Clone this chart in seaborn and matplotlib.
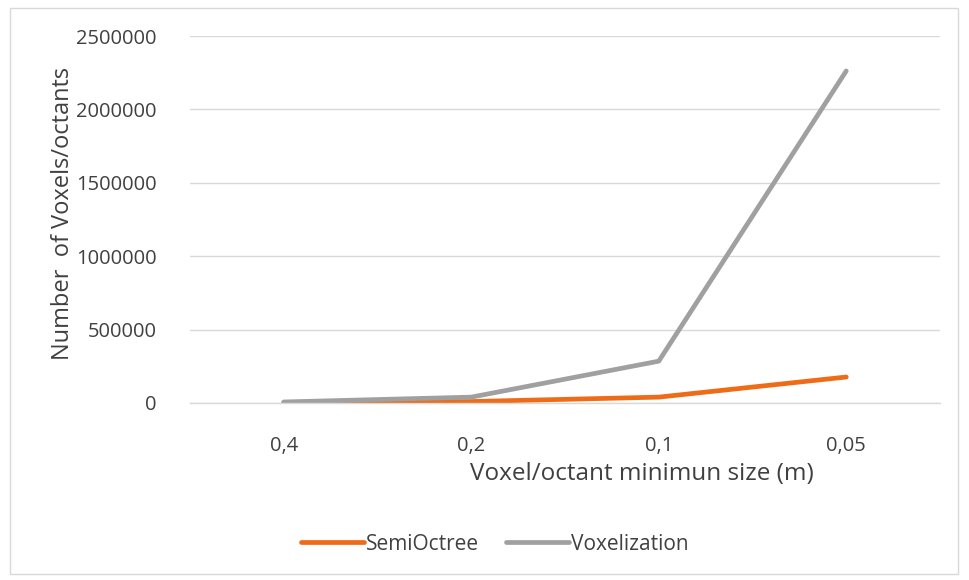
import matplotlib
matplotlib.use("Agg")
import matplotlib.pyplot as plt
import seaborn as sns
import pandas as pd
from matplotlib.patches import Rectangle

sizes = ["0,4", "0,2", "0,1", "0,05"]
semioctree = [2000, 10000, 40000, 177000]
voxelization = [7000, 40000, 285000, 2262000]
series_names = ["SemiOctree", "Voxelization"]
colors = ["#EE6C17", "#A0A0A0"]

df = pd.DataFrame({
    "size": sizes * 2,
    "count": semioctree + voxelization,
    "series": [series_names[0]] * len(sizes) + [series_names[1]] * len(sizes),
})

sns.set_theme(style="white")
plt.rcParams["font.family"] = ["Open Sans", "DejaVu Sans"]

fig = plt.figure(figsize=(9.7, 5.8), dpi=100)
ax = fig.add_axes([190/970, 1-403/580, 750/970, 367/580])

sns.lineplot(data=df, x="size", y="count", hue="series", palette=colors,
             linewidth=3.4, sort=False, ax=ax, legend=True,
             solid_capstyle="round")

ax.set_xlim(-0.5, 3.5)
ax.set_ylim(0, 2500000)
ax.set_yticks([0, 500000, 1000000, 1500000, 2000000, 2500000])
ax.set_yticklabels(["0", "500000", "1000000", "1500000", "2000000", "2500000"])
ax.yaxis.grid(True, color="#D9D9D9", linewidth=1)
ax.set_axisbelow(True)
for s in ["left", "right", "top"]:
    ax.spines[s].set_visible(False)
ax.spines["bottom"].set_color("#D9D9D9")
ax.spines["bottom"].set_linewidth(1)

ax.set_xticks(range(len(sizes)))
ax.set_xticklabels(sizes)
ax.set_xticks([-0.5, 0.5, 1.5, 2.5, 3.5], minor=True)
ax.tick_params(axis="x", which="major", length=0, pad=24, labelsize=14.5, labelcolor="#404040")
ax.tick_params(axis="x", which="minor", length=9, color="#D9D9D9", width=1, direction="out")
ax.tick_params(axis="y", length=0, pad=24, labelsize=14.5, labelcolor="#404040")

ax.set_xlabel("")
ax.set_ylabel("")
fig.text(63/970, 1-213/580, "Number  of Voxels/octants", rotation=90, ha="center", va="center",
         fontsize=17, color="#404040")
fig.text(642/970, 1-474/580, "Voxel/octant minimun size (m)", ha="center", va="center",
         fontsize=17.5, color="#404040")

handles, labels = ax.get_legend_handles_labels()
ax.get_legend().remove()
fig.legend(handles, labels, loc="center", bbox_to_anchor=(495/970, 1-544/580), ncol=2,
           frameon=False, fontsize=15, handlelength=3.0, handletextpad=0.1,
           columnspacing=1.3, labelcolor="#404040")

fig.patches.append(Rectangle((10/970, 6/580), 948/970, 566/580, transform=fig.transFigure,
                             fill=False, edgecolor="#D9D9D9", linewidth=1))

fig.savefig("out.png", dpi=100)
